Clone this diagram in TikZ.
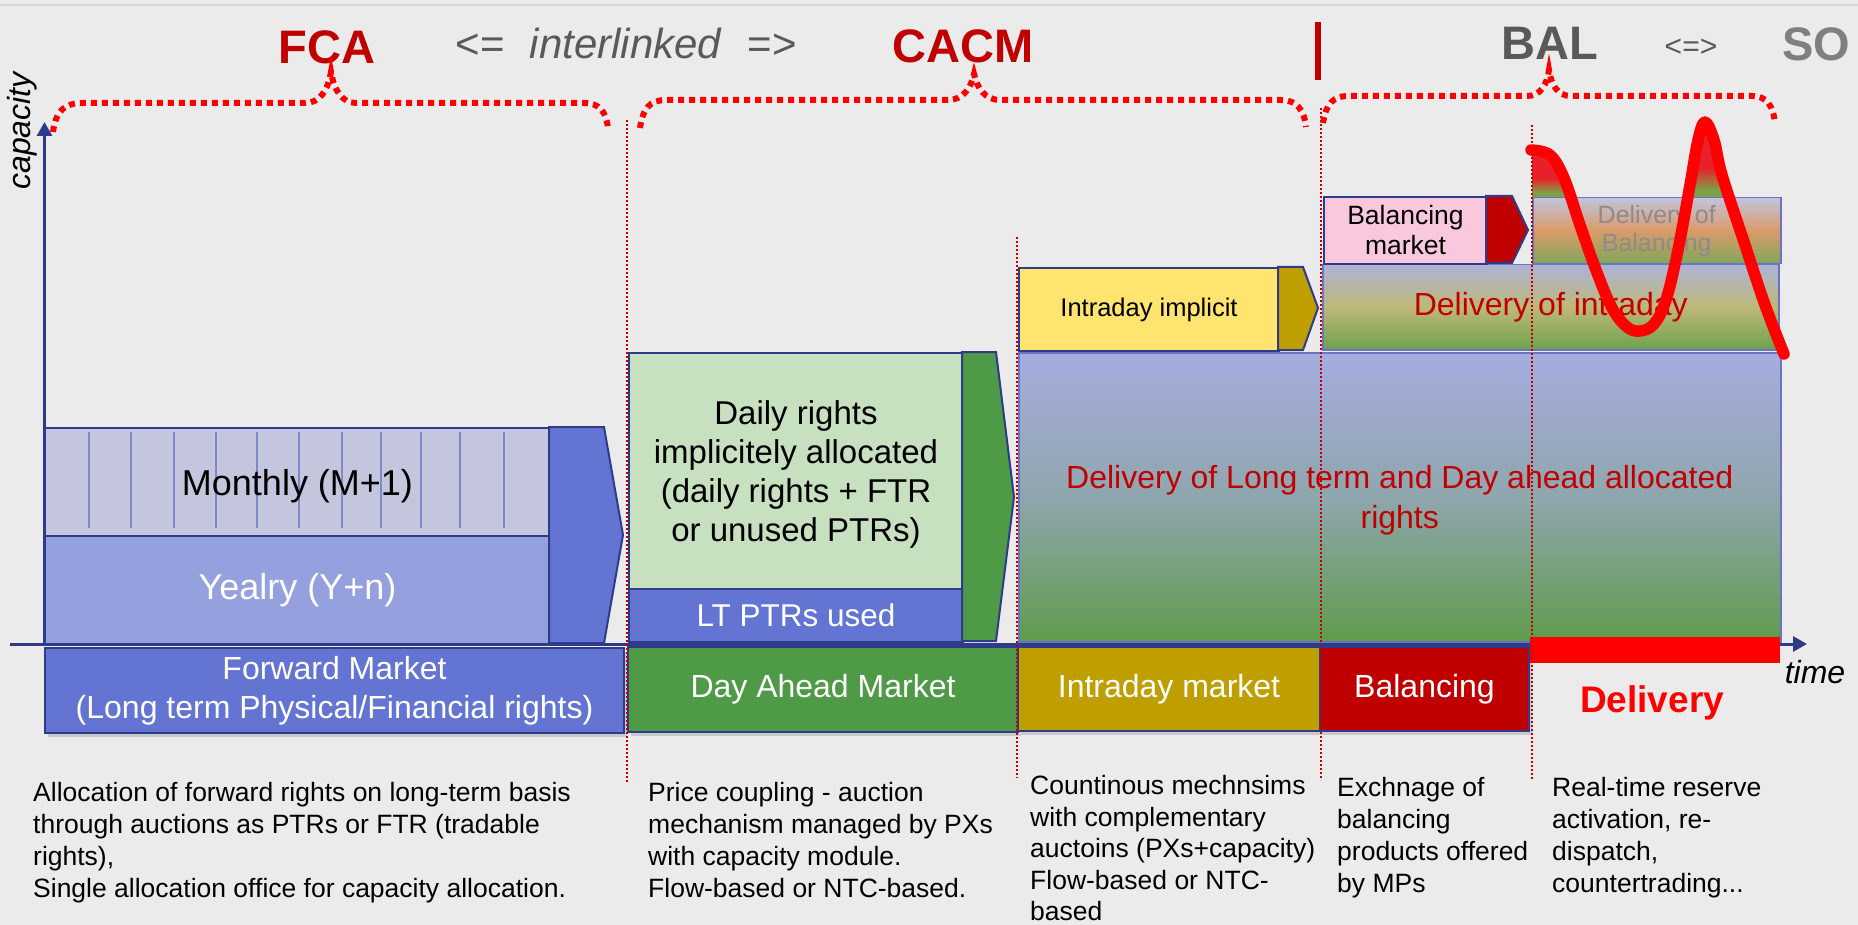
\documentclass[tikz,border=0pt]{standalone}
\usepackage{fontspec}
\setmainfont{Liberation Sans}
\usetikzlibrary{arrows.meta,shadows}
\definecolor{bg}{HTML}{EBEBEB}
\definecolor{topline}{HTML}{D6D6D6}
\definecolor{navy}{HTML}{2E3A8A}
\definecolor{dred}{HTML}{C00000}
\definecolor{bred}{HTML}{FF0000}
\definecolor{tgray}{HTML}{595959}
\definecolor{lgray}{HTML}{7F7F7F}
\definecolor{fwdblue}{HTML}{6474D3}
\definecolor{monthc}{HTML}{C3C6DD}
\definecolor{yearc}{HTML}{95A0DE}
\definecolor{stripec}{HTML}{7F88C8}
\definecolor{dagreen}{HTML}{4F9A46}
\definecolor{lgreen}{HTML}{C6E0C0}
\definecolor{goldc}{HTML}{BF9F00}
\definecolor{yellowc}{HTML}{FFE470}
\definecolor{pinkc}{HTML}{FAC8DC}
\definecolor{edgec}{HTML}{6B74C4}
\definecolor{fadetext}{HTML}{8C8C8C}
\definecolor{dltop}{HTML}{A6ACE0}
\definecolor{dlmid}{HTML}{8FA6AC}
\definecolor{dlbot}{HTML}{5F9B4D}
\definecolor{ditop}{HTML}{AEB2D6}
\definecolor{dimid}{HTML}{BDB878}
\definecolor{dibot}{HTML}{6EA14E}
\definecolor{dbtop}{HTML}{C2C4DC}
\definecolor{dbmid}{HTML}{DA9A68}
\definecolor{dbbot}{HTML}{80A85A}
\definecolor{pktop}{HTML}{E8202A}
\definecolor{pkbot}{HTML}{7EA046}
\pgfdeclareverticalshading{peakshade}{100bp}{color(0bp)=(pkbot); color(30bp)=(pkbot); color(46bp)=(pktop); color(100bp)=(pktop)}
\newcommand\myfs[2]{\fontsize{#1}{#2}\selectfont}
\begin{document}
\begin{tikzpicture}[x=1pt,y=-1pt,
  box/.style={draw=navy, line width=2pt, inner sep=0pt, anchor=north west, align=center},
  mkt/.style={box, text=white, font=\myfs{32}{39},
    drop shadow={opacity=0.3, shadow xshift=3pt, shadow yshift=-4pt}},
  arrowpart/.style={draw=navy, line width=2pt, line join=miter},
  bracepath/.style={bred, line width=6pt, dash pattern=on 6pt off 5pt},
  vline/.style={dred, line width=2pt, dash pattern=on 2pt off 2pt},
  axisline/.style={navy, line width=3pt, -{Triangle[length=14pt,width=15pt]}},
  desc/.style={anchor=north west, align=left, inner sep=0pt, font=\myfs{26.5}{32}},
  ttl/.style={font=\myfs{47}{50}\bfseries, inner sep=0pt},
  curve/.style={bred, line width=11.5pt, line cap=round, line join=round}]
\useasboundingbox (0,0) rectangle (1858,925);
\fill[bg] (0,0) rectangle (1858,925);
\draw[topline, line width=2pt] (0,5) -- (1858,5);

% titles
\node[ttl, text=dred] (fca) at (327,47) {FCA};
\node[font=\myfs{42}{46}, text=tgray, inner sep=0pt] (inter) at (626,44) {<=\hspace{0.6em}\textit{interlinked}\hspace{0.6em}=>};
\node[ttl, text=dred] (cacm) at (963,46) {CACM};
\coordinate (bartop) at (1318,22);
\coordinate (barbot) at (1318,80);
\draw[dred, line width=6pt] (bartop) -- (barbot);
\node[ttl, text=tgray] (bal) at (1550,43) {BAL};
\node[font=\myfs{30}{32}, text=tgray, inner sep=0pt] (equiv) at (1691,48) {<=>};
\node[ttl, text=lgray] (so) at (1816,44) {SO};

% axes
\coordinate (yorig) at (44.5,646);
\coordinate (ytop) at (44.5,122);
\coordinate (xorig) at (10,644);
\coordinate (xend) at (1807,644);
\draw[axisline] (yorig) -- (ytop);
\draw[axisline] (xorig) -- (xend);
\node[rotate=90, font=\myfs{32}{34}\itshape, inner sep=0pt] (cap) at (22,131) {capacity};
\node[font=\myfs{32}{34}\itshape, inner sep=0pt] (time) at (1815,672) {time};

% FCA blocks
\node[box, fill=monthc, minimum width=505pt, minimum height=108pt] (monthly) at (44,427) {};
\foreach \sx in {89,131,174,216,257,299,342,381,421,460,504}
  \draw[stripec, line width=1.5pt] (\sx,432) -- (\sx,528);
\node[font=\myfs{36}{40}, inner sep=0pt] (monthtxt) at ([yshift=-4pt]monthly.center) {Monthly (M+1)};
\node[box, fill=yearc, minimum width=505pt, minimum height=108pt, text=white, font=\myfs{36}{40}] (yearly) at (44,535) {Yealry (Y+n)};
\draw[arrowpart, fill=fwdblue] (549,427) -- (604,427) -- (623,535) -- (604,643) -- (549,643) -- cycle;

% CACM blocks
\node[box, fill=lgreen, minimum width=334pt, minimum height=236pt] (daily) at (628,352) {};
\node[font=\myfs{33}{39}, align=center, inner sep=0pt] (dailytxt) at ([yshift=-3pt]daily.center) {Daily rights\\implicitely allocated\\(daily rights + FTR\\or unused PTRs)};
\node[box, fill=fwdblue, minimum width=334pt, minimum height=53pt, text=white, font=\myfs{31.5}{34}] (ltptr) at (628,588) {LT PTRs used};
\draw[arrowpart, fill=dagreen] (962,352) -- (996,352) -- (1014,497) -- (996,641) -- (962,641) -- cycle;

% Delivery of long term
\node[box, draw=edgec, line width=1.5pt, top color=dltop, bottom color=dlbot, middle color=dlmid,
  minimum width=762pt, minimum height=289pt] (delivlt) at (1018,352) {};
\node[text=dred, font=\myfs{32}{40}, align=center, inner sep=0pt] (delivlttxt) at ([yshift=-3pt]delivlt.center)
  {Delivery of Long term and Day ahead allocated\\rights};

% Intraday implicit
\node[box, fill=yellowc, minimum width=260pt, minimum height=83pt, font=\myfs{25.5}{28}] (idimp) at (1018,267) {Intraday implicit};
\draw[arrowpart, fill=goldc] (1278,267) -- (1303,267) -- (1318,308) -- (1303,350) -- (1278,350) -- cycle;

% Delivery of intraday
\node[box, draw=edgec, line width=1.5pt, top color=ditop, bottom color=dibot, middle color=dimid,
  minimum width=456pt, minimum height=85pt, text=dred, font=\myfs{32}{36}] (delivid) at (1322,264)
  {Delivery of intraday};

% Balancing market
\node[box, fill=pinkc, minimum width=163pt, minimum height=67pt, font=\myfs{26.5}{30}] (balmkt) at (1323,196) {Balancing\\market};
\draw[arrowpart, fill=dred] (1486,196) -- (1512,196) -- (1528,230) -- (1512,263) -- (1486,263) -- cycle;

% peaks
\fill[shading=peakshade] (1532,197) -- (1532,152) .. controls (1552,152) and (1563,170) .. (1573,197) -- cycle;
\fill[shading=peakshade] (1688,197) .. controls (1695,165) and (1700,130) .. (1706,128) .. controls (1712,135) and (1722,170) .. (1731,197) -- cycle;

% Delivery of balancing
\node[box, draw=edgec, line width=1.5pt, top color=dbtop, bottom color=dbbot, middle color=dbmid,
  minimum width=248pt, minimum height=66pt, text=fadetext, font=\myfs{25}{28}] (delivbal) at (1532,197)
  {Delivery of\\Balancing};

% market row
\node[mkt, fill=fwdblue, minimum width=579pt, minimum height=85pt] (fwd) at (44,647) {Forward Market\\(Long term Physical/Financial rights)};
\node[mkt, fill=dagreen, minimum width=390pt, minimum height=85pt] (dam) at (627,646) {Day Ahead Market};
\node[mkt, fill=goldc, minimum width=302pt, minimum height=84pt] (idm) at (1017,646) {Intraday market};
\node[mkt, fill=dred, minimum width=209pt, minimum height=84pt] (balm) at (1319,646) {Balancing};
\fill[bred] (1530,637) rectangle (1780,663);
\node[font=\myfs{37}{40}\bfseries, text=bred, inner sep=0pt] (deliv) at (1652,703) {Delivery};

% descriptions
\node[desc] (d1) at (33,782.5) {Allocation of forward rights on long-term basis\\through auctions as PTRs or FTR (tradable\\rights),\\Single allocation office for capacity allocation.};
\node[desc] (d2) at (648,782.5) {Price coupling - auction\\mechanism managed by PXs\\with capacity module.\\Flow-based or NTC-based.};
\node[desc, font=\myfs{26.5}{31.6}] (d3) at (1030,775) {Countinous mechnsims\\with complementary\\auctoins (PXs+capacity)\\Flow-based or NTC-\\based};
\node[desc] (d4) at (1337,777) {Exchnage of\\balancing\\products offered\\by MPs};
\node[desc] (d5) at (1552,777) {Real-time reserve\\activation, re-\\dispatch,\\countertrading...};

% vertical dotted separators
\draw[vline] (627,120) -- (627,782);
\draw[vline] (1017,237) -- (1017,778);
\draw[vline] (1321,108) -- (1321,780);
\draw[vline] (1532,125) -- (1532,780);

% braces
\draw[bracepath] (53,132) .. controls (56,110) and (65,103) .. (83,103) -- (305,103) .. controls (320,103) and (328,90) .. (331,72) .. controls (334,90) and (342,103) .. (356,103) -- (584,103) .. controls (600,103) and (606,112) .. (608,128);
\draw[bracepath] (640,128) .. controls (643,108) and (650,100) .. (666,100) -- (948,100) .. controls (963,100) and (971,88) .. (974,74) .. controls (977,88) and (985,100) .. (1000,100) -- (1281,100) .. controls (1297,100) and (1304,110) .. (1306,127);
\draw[bracepath] (1323,123) .. controls (1326,104) and (1333,96) .. (1348,96) -- (1527,96) .. controls (1541,96) and (1547,84) .. (1549,70) .. controls (1551,84) and (1557,96) .. (1571,96) -- (1752,96) .. controls (1767,96) and (1773,106) .. (1775,123);

% red curve
\draw[curve] plot[smooth, tension=0.6] coordinates {(1531,150) (1550,155) (1564,178) (1580,225) (1596,270) (1612,308) (1627,327) (1640,331) (1654,324) (1666,300) (1678,250) (1690,185) (1698,140) (1705,122) (1714,140) (1722,175) (1745,245) (1765,305) (1784,354)};
\end{tikzpicture}
\end{document}
